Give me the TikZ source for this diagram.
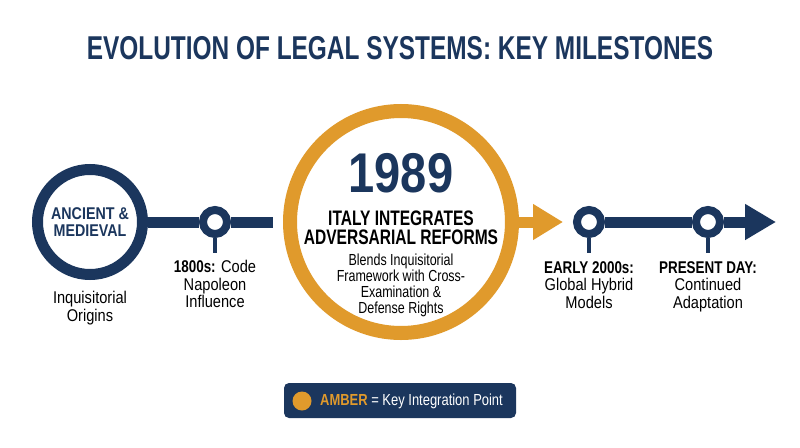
\documentclass[tikz,border=0pt]{standalone}
\usepackage{fontspec}
\setmainfont{Liberation Sans}[FakeStretch=0.84]
\newfontfamily\ftitle{Liberation Sans}[FakeStretch=0.74]
\newfontfamily\fital{Liberation Sans}[FakeStretch=0.74]
\newfontfamily\fblend{Liberation Sans}[FakeStretch=0.78]
\newfontfamily\flbl{Liberation Sans}[FakeStretch=0.86]
\newfontfamily\flblb{Liberation Sans}[FakeStretch=0.79]
\newfontfamily\fleg{Liberation Sans}[FakeStretch=0.81]
\usetikzlibrary{arrows.meta}
\definecolor{navy}{HTML}{1B365D}
\definecolor{amber}{HTML}{E09A2C}
\newcommand{\hb}[1]{{\flblb\bfseries #1}}
\begin{document}
\begin{tikzpicture}[x=1pt,y=-1pt,
  ring/.style={circle,draw=navy,line width=11pt,fill=white,inner sep=0pt},
  dot/.style={circle,draw=navy,line width=8pt,fill=white,minimum size=24pt,inner sep=0pt},
  bar/.style={draw=navy,line width=11pt},
  stem/.style={draw=navy,line width=4pt},
  lbl/.style={align=center,font=\flbl\fontsize{17}{17.5}\selectfont,inner sep=0pt,anchor=north}
]
\useasboundingbox (0,0) rectangle (800,447);
\fill[white] (0,0) rectangle (800,447);
\node[text=navy,font=\ftitle\fontsize{33}{36}\selectfont\bfseries] (title) at (400,48) {EVOLUTION OF LEGAL SYSTEMS: KEY MILESTONES};

% left circle
\node[ring,minimum size=105pt,align=center,text=navy,font=\fontsize{17}{17}\selectfont\bfseries] (anc) at (90,222) {ANCIENT \&\\MEDIEVAL};
\node[dot] (c1800) at (215,222) {};
\coordinate (gapL) at (273,222);
\draw[bar] (anc.east) -- (c1800.west);
\draw[bar] (c1800.east) -- (gapL);
\coordinate (s1800) at (215,253);
\draw[stem] (c1800.south) -- (s1800);

% amber circle
\node[circle,draw=amber,line width=14pt,fill=white,minimum size=222pt,inner sep=0pt] (amb) at (401,222) {};
\node[text=navy,font=\fontsize{56}{56}\selectfont\bfseries] (yr) at (401,173) {1989};
\node[align=center,font=\fital\fontsize{21}{19}\selectfont\bfseries] (it) at (401,228) {ITALY INTEGRATES\\ADVERSARIAL REFORMS};
\node[align=center,font=\fblend\fontsize{16}{16}\selectfont] (bl) at (401,285) {Blends Inquisitorial\\Framework with Cross-\\Examination \&\\Defense Rights};
\coordinate (tipA) at (563,222);
\draw[draw=amber,line width=11pt,-{Triangle[length=30pt,width=34pt]}] (amb.east) -- (tipA);

% right part
\node[dot] (c2000) at (589,222) {};
\node[dot] (cpres) at (708,222) {};
\coordinate (tipN) at (776,222);
\draw[bar] (c2000.east) -- (cpres.west);
\draw[bar,-{Triangle[length=31pt,width=34pt]}] (cpres.east) -- (tipN);
\coordinate (s2000) at (589,253);
\coordinate (spres) at (708,253);
\draw[stem] (c2000.south) -- (s2000);
\draw[stem] (cpres.south) -- (spres);

% labels
\node[lbl] (l0) at (90,291) {Inquisitorial\\Origins};
\node[lbl] (l1) at (215,260) {\hb{1800s:} Code\\Napoleon\\Influence};
\node[lbl] (l2) at (589,261) {\hb{EARLY 2000s:}\\Global Hybrid\\Models};
\node[lbl] (l3) at (708,261) {\hb{PRESENT DAY:}\\Continued\\Adaptation};

% legend
\node[fill=navy,rounded corners=5pt,minimum width=232pt,minimum height=35pt,inner sep=0pt] (leg) at (400,400.5) {};
\node[circle,fill=amber,minimum size=19pt,inner sep=0pt] (ldot) at (302,401) {};
\node[anchor=west,inner sep=0pt,text=white,font=\fleg\fontsize{16}{17}\selectfont] (ltxt) at (320,401) {{\bfseries\color{amber}AMBER} = Key Integration Point};
\end{tikzpicture}
\end{document}
